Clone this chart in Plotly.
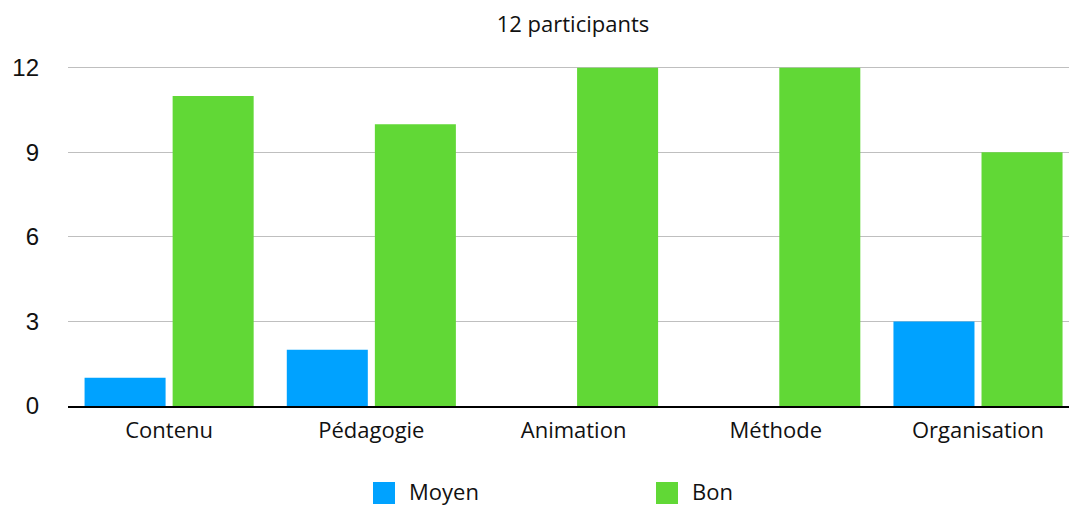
import plotly.graph_objects as go

categories = ["Contenu", "Pédagogie", "Animation", "Méthode", "Organisation"]
moyen = [1, 2, 0, 0, 3]
bon = [11, 10, 12, 12, 9]
series_names = ["Moyen", "Bon"]
colors = ["#00A2FF", "#61D836"]
y_ticks = [0, 3, 6, 9, 12]
title_text = "12 participants"

fig = go.Figure()
fig.add_trace(go.Bar(x=categories, y=moyen, name=series_names[0], marker_color=colors[0],
                     marker_line_width=0, showlegend=False))
fig.add_trace(go.Bar(x=categories, y=bon, name=series_names[1], marker_color=colors[1],
                     marker_line_width=0, showlegend=False))

# custom legend (large square swatches)
leg_x = [0.3047, 0.5874]
for i, nm in enumerate(series_names):
    fig.add_shape(type="rect", xref="paper", yref="paper",
                  x0=leg_x[i], x1=leg_x[i] + 0.022, y0=-0.2874, y1=-0.2229,
                  fillcolor=colors[i], line_width=0)
    fig.add_annotation(text=nm, xref="paper", yref="paper", x=leg_x[i] + 0.035, y=-0.2500,
                       xanchor="left", yanchor="middle", showarrow=False, borderpad=0,
                       font=dict(family="Open Sans", size=22, color="#111111"))

fig.update_layout(
    width=1069, height=506,
    margin=dict(l=68, r=0, t=65, b=100),
    paper_bgcolor="white", plot_bgcolor="white",
    barmode="group", bargap=0.129, bargroupgap=0.08,
    title=dict(text=title_text, x=573 / 1069, xref="container", xanchor="center",
               y=1 - 24 / 506, yref="container", yanchor="middle",
               font=dict(family="Open Sans", size=22, color="#111111")),
    xaxis=dict(range=[-0.5, 4.45], showline=True, linecolor="black", linewidth=2,
               ticks="", showgrid=False, zeroline=False,
               tickfont=dict(family="Open Sans", size=22, color="#111111"),
               ticklabelstandoff=4),
    yaxis=dict(range=[0, 12.1], tickvals=y_ticks, showgrid=True, gridcolor="#BFBFBF",
               gridwidth=1, zeroline=False, showline=False, ticks="",
               tickfont=dict(family="Liberation Sans", size=24, color="#111111"),
               ticklabelstandoff=28),
)

fig.write_html("out.html")
